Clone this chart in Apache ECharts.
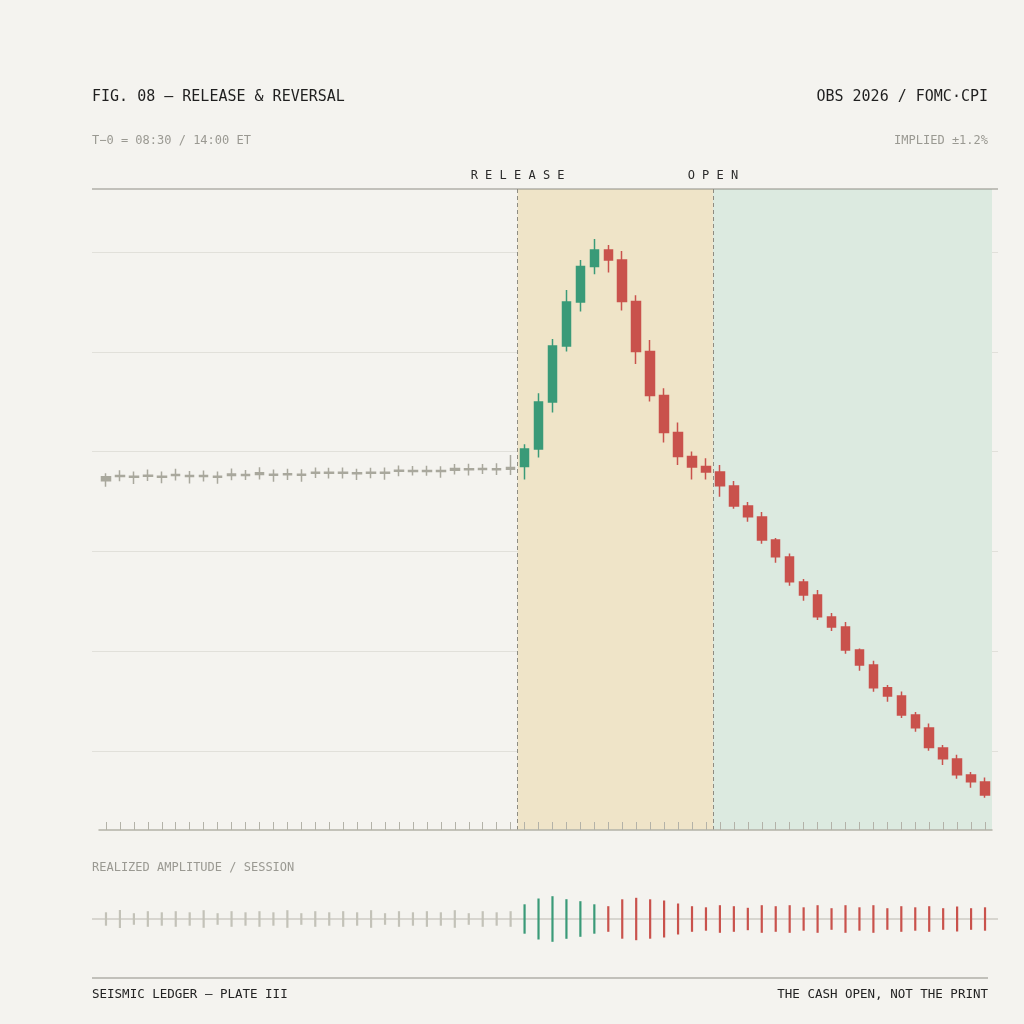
<!DOCTYPE html>
<html>
<head>
<meta charset="utf-8">
<script src="https://cdn.jsdelivr.net/npm/echarts@6/dist/echarts.min.js"></script>
<style>
  html, body { margin: 0; padding: 0; background: #f4f3ef; }
  #chart { width: 1024px; height: 1024px; }
</style>
</head>
<body>
<div id="chart"></div>
<script>
// ---- DATA (basis points vs. pre-release level) ----
const categories = [];
for (let i = 0; i < 64; i++) categories.push('T' + (i - 30 >= 0 ? '+' : '') + (i - 30));

const opens  = [-0.4, 0.3, -0.1, 0.4, -0.1, 0.8, 0.3, 0.3, -0.1, 1.0, 0.8, 1.6, 0.9, 1.1, 0.9, 1.9, 1.9, 1.9, 1.6, 1.9, 1.9, 2.9, 2.7, 2.7, 2.8, 3.8, 3.6, 3.8, 3.6, 4.3,
  4.7, 13.5, 37.0, 65.0, 87.0, 104.7, 113.0, 108.0, 87.2, 62.2, 40.2, 21.7, 9.7, 4.7,
  2.0, -5.0, -15.0, -20.5, -32.0, -40.5, -53.0, -59.5, -70.5, -75.5, -87.0, -94.5, -105.9, -110.0, -119.5, -126.0, -136.0, -141.5, -149.5, -153.0];
const closes = [-2.4, -0.3, -0.6, -0.1, -0.6, 0.2, -0.3, -0.3, -0.6, 0.3, 0.2, 0.7, 0.4, 0.6, 0.4, 1.4, 1.4, 1.4, 1.1, 1.4, 1.4, 2.4, 2.2, 2.2, 2.2, 2.9, 3.1, 3.2, 3.1, 3.4,
  13.5, 37.0, 65.0, 87.0, 104.7, 113.0, 108.0, 87.2, 62.2, 40.2, 21.7, 9.7, 4.5, 2.0,
  -4.9, -15.0, -20.4, -32.0, -40.4, -52.9, -59.5, -70.4, -75.5, -87.0, -94.5, -105.9, -110.0, -119.5, -125.9, -135.7, -141.4, -149.4, -152.9, -159.5];
const lows   = [-5.4, -2.6, -4.0, -2.5, -3.6, -2.2, -3.8, -2.8, -3.9, -2.1, -2.0, -1.8, -2.9, -2.0, -2.9, -1.0, -1.3, -1.2, -2.0, -1.1, -1.9, -0.1, 0.3, 0.1, -0.9, 0.8, 0.3, 1.0, 0.5, 0.5,
  -1.7, 9.2, 31.7, 62.2, 82.2, 100.9, 101.7, 82.7, 56.0, 37.2, 16.7, 5.5, -1.7, -1.7,
  -10.4, -16.4, -22.9, -33.9, -43.4, -54.9, -62.4, -72.0, -77.5, -88.9, -97.4, -107.9, -112.9, -121.0, -127.9, -137.4, -144.5, -151.4, -155.9, -160.9];
const highs  = [1.4, 2.9, 2.2, 3.2, 2.3, 3.6, 2.5, 2.7, 2.2, 3.7, 3.0, 4.4, 3.3, 3.6, 3.4, 4.3, 4.1, 4.3, 3.6, 4.1, 4.2, 5.2, 5.0, 5.1, 4.9, 6.0, 6.1, 6.0, 6.4, 10.5,
  15.9, 41.4, 68.5, 93.0, 108.0, 118.5, 115.5, 112.5, 90.4, 68.0, 43.9, 26.7, 12.2, 8.9,
  5.5, -2.5, -13.0, -18.0, -31.0, -38.7, -51.5, -57.0, -68.5, -73.0, -86.2, -92.4, -104.5, -107.7, -118.0, -123.7, -134.5, -139.4, -148.0, -150.7];

// realized amplitude per session (half-range)
const amplitude = [6.7, 9.0, 5.8, 7.8, 6.7, 7.8, 6.7, 8.8, 5.8, 7.8, 6.7, 7.8, 6.7, 8.8, 5.8, 7.8, 6.7, 7.8, 6.7, 8.8, 5.8, 7.8, 6.7, 7.8, 6.7, 8.8, 5.8, 7.8, 6.7, 7.8,
  14.7, 20.5, 22.8, 19.8, 17.8, 14.7, 12.8, 19.7, 21.2, 19.7, 18.5, 15.5, 12.8, 11.7,
  13.8, 12.8, 11.2, 13.8, 12.8, 13.8, 11.7, 13.8, 10.8, 13.8, 11.7, 13.8, 10.8, 12.8, 11.7, 12.8, 10.8, 12.5, 10.8, 11.7];

const releaseIndex = 30;
const openIndex = 44;
const gridLevels = [0, 5];   // helper for horizontal rules

// ---- STYLE ----
const MONO = '"DejaVu Sans Mono", "Liberation Mono", monospace';
const UP = '#3a9a78', DOWN = '#c9524c', PRE = '#a9a89d', PRE_AMP = '#c3c2b8';

const candleData = categories.map((c, i) => {
  const item = { value: [opens[i], closes[i], lows[i], highs[i]] };
  if (i < releaseIndex) {
    item.itemStyle = { color: PRE, color0: PRE, borderColor: PRE, borderColor0: PRE };
  }
  return item;
});
const ampColor = i => i < releaseIndex ? PRE_AMP : (closes[i] >= opens[i] ? UP : DOWN);
const ampUp = amplitude.map((a, i) => ({ value: a, itemStyle: { color: ampColor(i) } }));
const ampDown = amplitude.map((a, i) => ({ value: -a, itemStyle: { color: ampColor(i) } }));

const chart = echarts.init(document.getElementById('chart'), null, { renderer: 'canvas' });
chart.setOption({
  backgroundColor: '#f4f3ef',
  animation: false,
  grid: [
    { left: 92, right: 26, top: 252, bottom: 273 },   // horizontal rules
    { left: 99, right: 32, top: 189, bottom: 194 },   // candles
    { left: 99, right: 32, top: 889, bottom: 75 }     // amplitude
  ],
  xAxis: [
    { gridIndex: 0, type: 'value', show: false, min: 0, max: 1 },
    { gridIndex: 1, type: 'category', data: categories, boundaryGap: true, z: 5,
      axisLine: { show: true, onZero: false, lineStyle: { color: '#b3b2a8', width: 1.5 } },
      axisTick: { show: true, inside: true, length: 8, interval: 0, alignWithLabel: true, lineStyle: { color: '#b3b2a8', width: 1 } },
      axisLabel: { show: false, interval: 0 }, splitLine: { show: false } },
    { gridIndex: 1, type: 'value', show: false, min: 0, max: 64, position: 'top' },
    { gridIndex: 2, type: 'category', data: categories, boundaryGap: true, show: false }
  ],
  yAxis: [
    { gridIndex: 0, type: 'value', min: gridLevels[0], max: gridLevels[1], interval: 1,
      axisLine: { show: false }, axisTick: { show: false }, axisLabel: { show: false },
      splitLine: { lineStyle: { color: '#e1e0da', width: 1 } } },
    { gridIndex: 1, type: 'value', min: -177, max: 143.5, show: false, splitLine: { show: false } },
    { gridIndex: 2, type: 'value', min: -30, max: 30, show: false, splitLine: { show: false } }
  ],
  series: [
    {
      type: 'line', xAxisIndex: 2, yAxisIndex: 1, data: [[0, 0]], symbol: 'none',
      lineStyle: { opacity: 0 }, silent: true, z: 1,
      markArea: {
        silent: true,
        data: [
          [{ xAxis: releaseIndex, itemStyle: { color: '#efe4c8' } }, { xAxis: openIndex }],
          [{ xAxis: openIndex, itemStyle: { color: '#dceae0' } }, { xAxis: 64 }]
        ]
      },
      markLine: {
        silent: true, symbol: ['none', 'none'],
        lineStyle: { type: [4, 3], color: '#8e8c82', width: 1 },
        label: { position: 'end', distance: 7, fontFamily: MONO, fontSize: 12, color: '#2a2a2a' },
        data: [
          { xAxis: releaseIndex, label: { formatter: 'R E L E A S E' } },
          { xAxis: openIndex, label: { formatter: 'O P E N' } }
        ]
      }
    },
    {
      type: 'candlestick', xAxisIndex: 1, yAxisIndex: 1, z: 3,
      barWidth: 9,
      itemStyle: { color: UP, color0: DOWN, borderColor: UP, borderColor0: DOWN, borderWidth: 1.5 },
      data: candleData
    },
    {
      type: 'bar', xAxisIndex: 3, yAxisIndex: 2, stack: 'amp', barWidth: 2.2, data: ampUp, silent: true
    },
    {
      type: 'bar', xAxisIndex: 3, yAxisIndex: 2, stack: 'amp', barWidth: 2.2, data: ampDown, silent: true
    }
  ],
  graphic: [
    { type: 'line', shape: { x1: 92, y1: 189, x2: 998, y2: 189 }, style: { stroke: '#8e8d85', lineWidth: 1.2 }, z: 10 },
    { type: 'line', shape: { x1: 92, y1: 919, x2: 998, y2: 919 }, style: { stroke: '#b9b8b0', lineWidth: 1.2 }, z: 0 },
    { type: 'line', shape: { x1: 92, y1: 978, x2: 988, y2: 978 }, style: { stroke: '#8e8d85', lineWidth: 1.2 } },
    { type: 'text', style: { text: 'FIG. 08 — RELEASE & REVERSAL', x: 92, y: 97, font: '15px ' + MONO, fill: '#1f1f1f', textAlign: 'left', textVerticalAlign: 'middle' } },
    { type: 'text', style: { text: 'OBS 2026 / FOMC·CPI', x: 988, y: 97, font: '15px ' + MONO, fill: '#1f1f1f', textAlign: 'right', textVerticalAlign: 'middle' } },
    { type: 'text', style: { text: 'T−0 = 08:30 / 14:00 ET', x: 92, y: 141, font: '12px ' + MONO, fill: '#9a9992', textAlign: 'left', textVerticalAlign: 'middle' } },
    { type: 'text', style: { text: 'IMPLIED ±1.2%', x: 988, y: 141, font: '12px ' + MONO, fill: '#9a9992', textAlign: 'right', textVerticalAlign: 'middle' } },
    { type: 'text', style: { text: 'REALIZED AMPLITUDE / SESSION', x: 92, y: 868, font: '12px ' + MONO, fill: '#9a9992', textAlign: 'left', textVerticalAlign: 'middle' } },
    { type: 'text', style: { text: 'SEISMIC LEDGER — PLATE III', x: 92, y: 995, font: '12.5px ' + MONO, fill: '#222222', textAlign: 'left', textVerticalAlign: 'middle' } },
    { type: 'text', style: { text: 'THE CASH OPEN, NOT THE PRINT', x: 988, y: 995, font: '12.5px ' + MONO, fill: '#222222', textAlign: 'right', textVerticalAlign: 'middle' } }
  ]
});
</script>
</body>
</html>
